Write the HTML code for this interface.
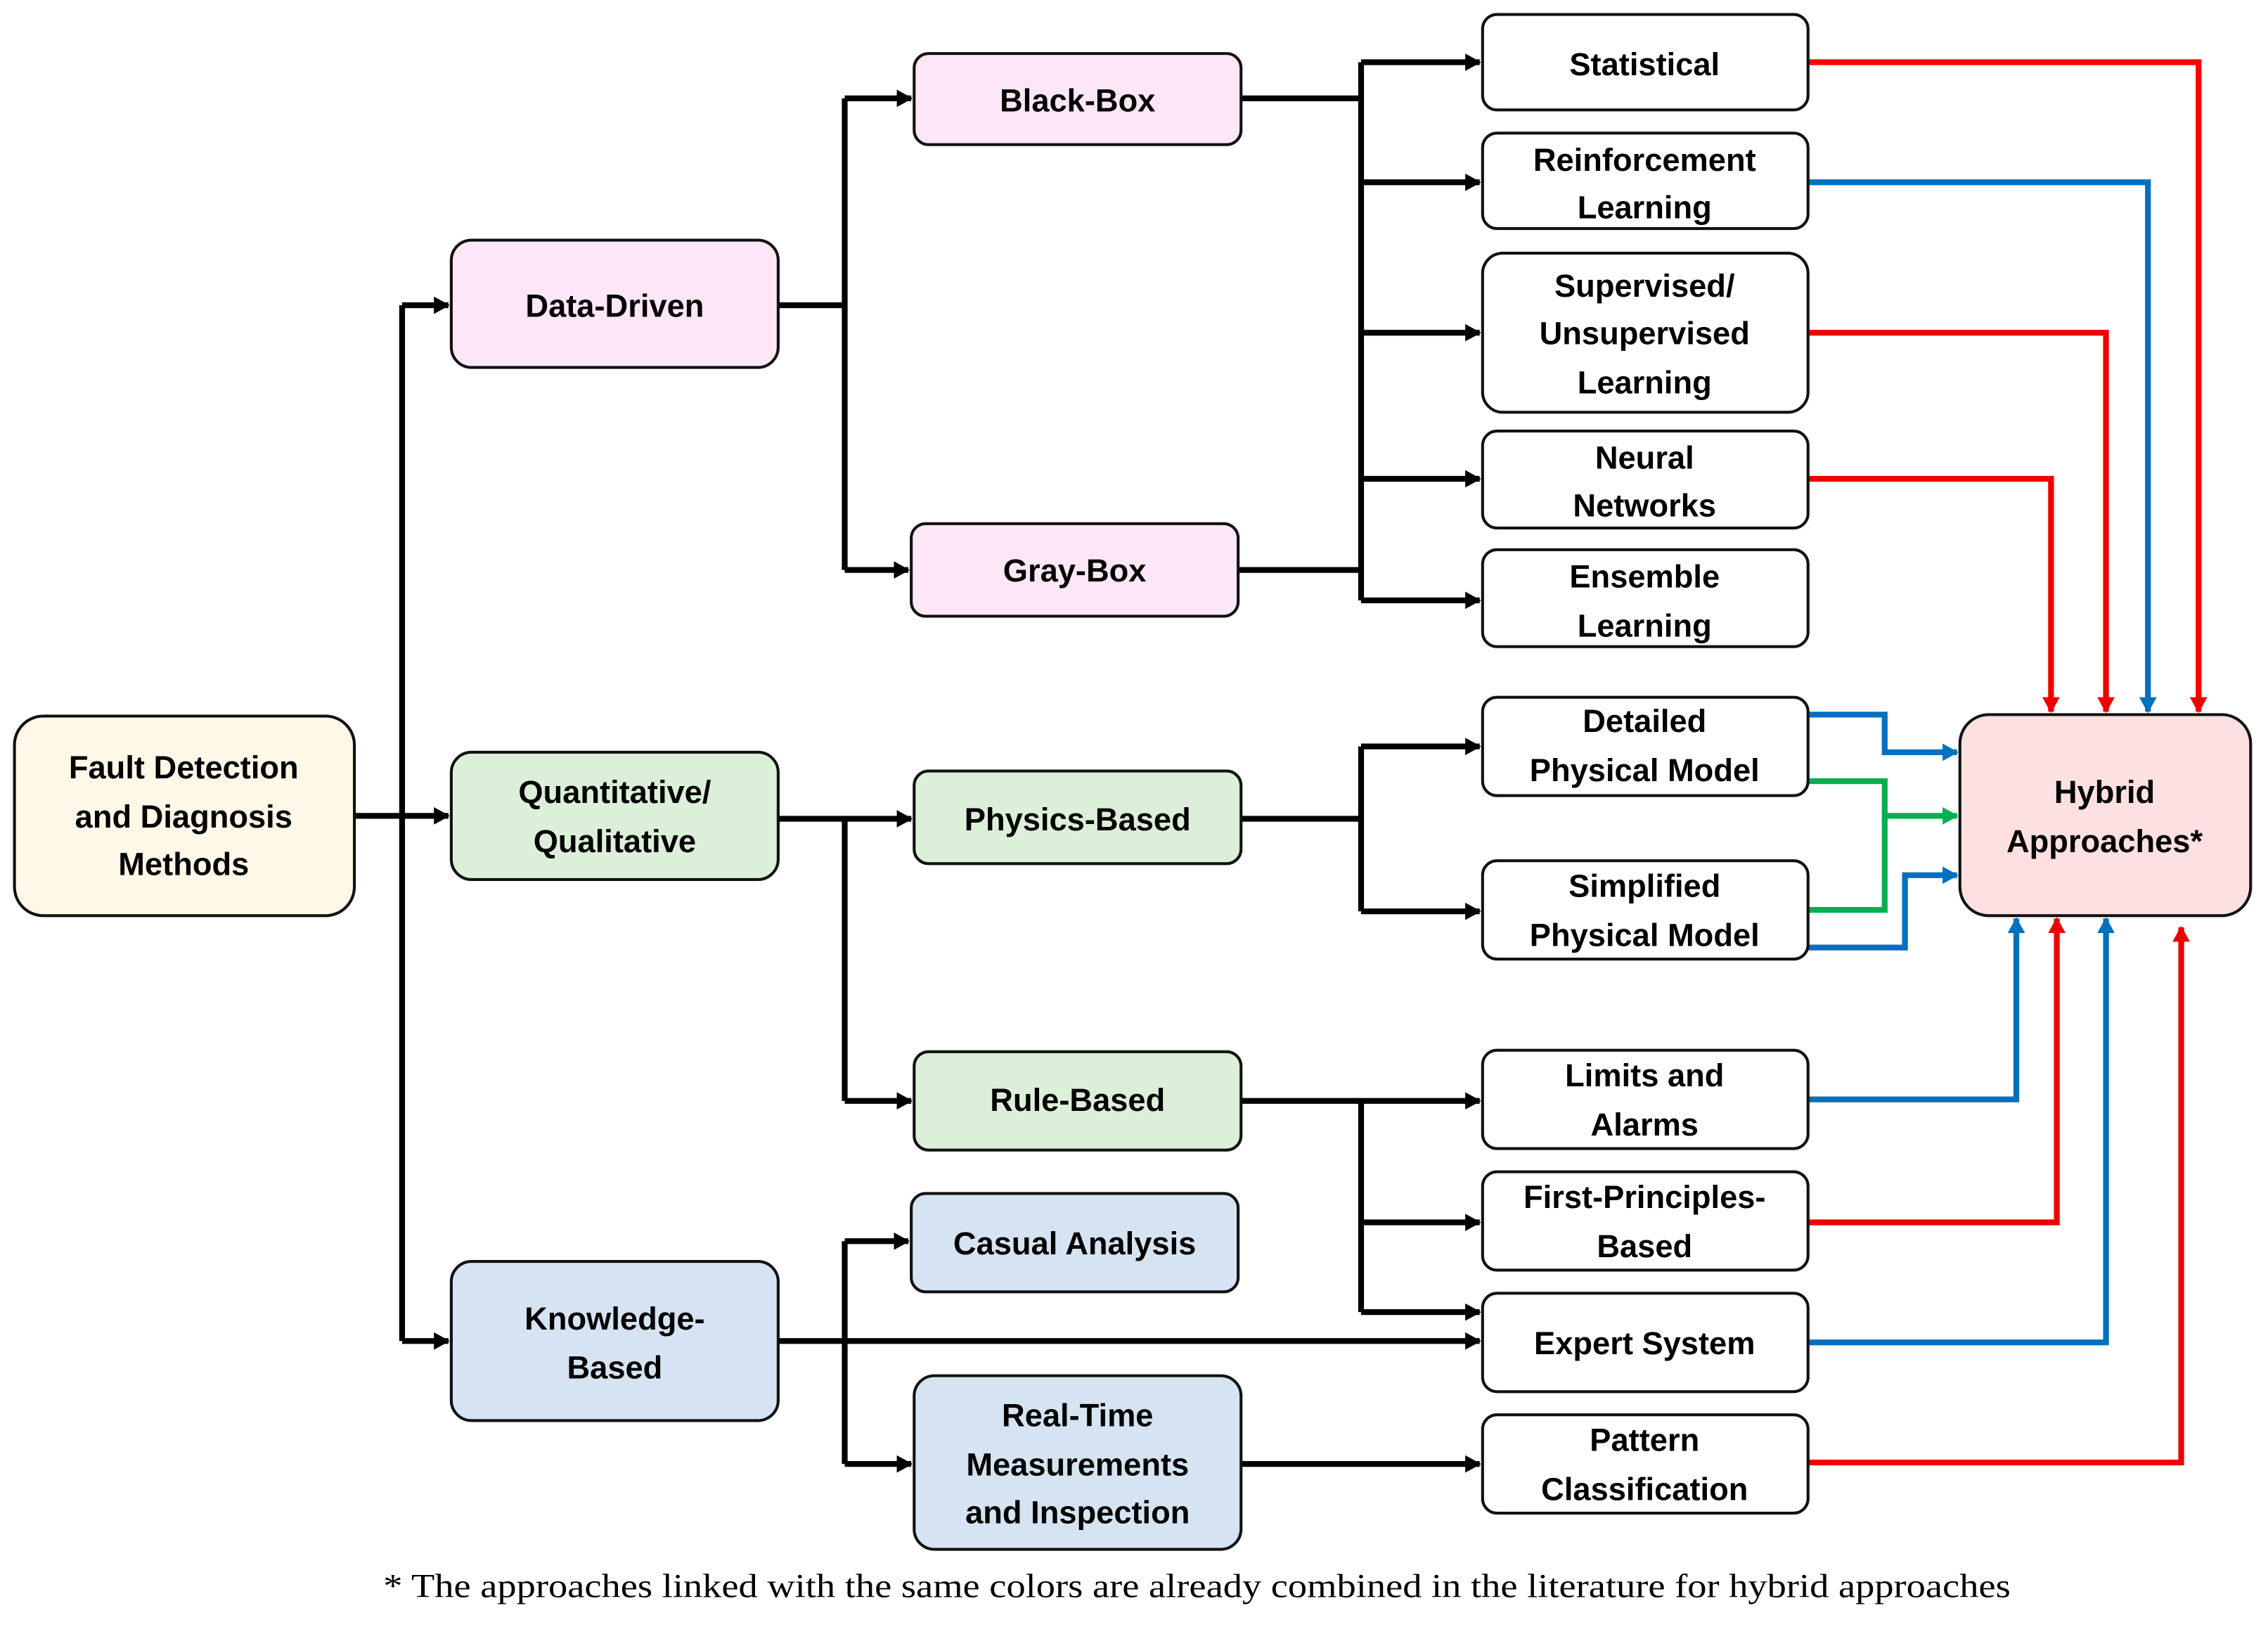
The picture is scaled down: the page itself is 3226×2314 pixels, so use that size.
<!DOCTYPE html>
<html><head><meta charset="utf-8"><style>
html,body{margin:0;padding:0;background:#fff;}
svg{display:block;}
text{font-family:"Liberation Sans",sans-serif;font-weight:bold;font-size:22px;fill:#000;text-anchor:middle;}
.cap{font-family:"Liberation Serif",serif;font-weight:normal;font-size:23px;text-anchor:start;}
</style></head><body>
<svg width="3226" height="2314" viewBox="0 0 1568 1124.7" preserveAspectRatio="none" xmlns="http://www.w3.org/2000/svg">
<defs>
<marker id="ak" markerWidth="14" markerHeight="14" refX="10" refY="6" orient="auto" markerUnits="userSpaceOnUse"><path d="M0,0 L11,6 L0,12 z" fill="#000"/></marker>
<marker id="ar" markerWidth="14" markerHeight="14" refX="10" refY="6" orient="auto" markerUnits="userSpaceOnUse"><path d="M0,0 L11,6 L0,12 z" fill="#e00"/></marker>
<marker id="ab" markerWidth="14" markerHeight="14" refX="10" refY="6" orient="auto" markerUnits="userSpaceOnUse"><path d="M0,0 L11,6 L0,12 z" fill="#0070c0"/></marker>
<marker id="ag" markerWidth="14" markerHeight="14" refX="10" refY="6" orient="auto" markerUnits="userSpaceOnUse"><path d="M0,0 L11,6 L0,12 z" fill="#00b050"/></marker>
</defs>
<g fill="none" stroke="#000" stroke-width="4">
<path d="M245,564 H278"/><path d="M278,211 V927"/>
<path d="M278,211 H310" marker-end="url(#ak)"/>
<path d="M278,564 H310" marker-end="url(#ak)"/>
<path d="M278,927 H310" marker-end="url(#ak)"/>
<path d="M538,211 H584"/><path d="M584,68 V394"/>
<path d="M584,68 H630" marker-end="url(#ak)"/>
<path d="M584,394 H628" marker-end="url(#ak)"/>
<path d="M858,68 H941"/><path d="M856,394 H941"/><path d="M941,43 V415"/>
<path d="M941,43 H1023" marker-end="url(#ak)"/>
<path d="M941,126 H1023" marker-end="url(#ak)"/>
<path d="M941,230 H1023" marker-end="url(#ak)"/>
<path d="M941,331 H1023" marker-end="url(#ak)"/>
<path d="M941,415 H1023" marker-end="url(#ak)"/>
<path d="M538,566 H630" marker-end="url(#ak)"/>
<path d="M584,566 V761"/><path d="M584,761 H630" marker-end="url(#ak)"/>
<path d="M858,566 H941"/><path d="M941,516 V630"/>
<path d="M941,516 H1023" marker-end="url(#ak)"/>
<path d="M941,630 H1023" marker-end="url(#ak)"/>
<path d="M858,761 H1023" marker-end="url(#ak)"/>
<path d="M941,761 V907"/>
<path d="M941,845 H1023" marker-end="url(#ak)"/>
<path d="M941,907 H1023" marker-end="url(#ak)"/>
<path d="M538,927 H1023" marker-end="url(#ak)"/>
<path d="M584,858 V1012"/>
<path d="M584,858 H628" marker-end="url(#ak)"/>
<path d="M584,1012 H630" marker-end="url(#ak)"/>
<path d="M858,1012 H1023" marker-end="url(#ak)"/>
</g>
<g fill="none" stroke-width="4">
<path d="M1250,43 H1520 V492" stroke="#f00" marker-end="url(#ar)"/>
<path d="M1250,126 H1485 V492" stroke="#0070c0" marker-end="url(#ab)"/>
<path d="M1250,230 H1456 V492" stroke="#e00" marker-end="url(#ar)"/>
<path d="M1250,331 H1418 V492" stroke="#e00" marker-end="url(#ar)"/>
<path d="M1250,494 H1303 V520 H1353" stroke="#0070c0" marker-end="url(#ab)"/>
<path d="M1250,540 H1303 V629 H1250" stroke="#00b050"/>
<path d="M1303,564 H1353" stroke="#00b050" marker-end="url(#ag)"/>
<path d="M1250,655 H1317 V605 H1353" stroke="#0070c0" marker-end="url(#ab)"/>
<path d="M1250,760 H1394 V635" stroke="#0070c0" marker-end="url(#ab)"/>
<path d="M1250,845 H1422 V635" stroke="#e00" marker-end="url(#ar)"/>
<path d="M1250,928 H1456 V635" stroke="#0070c0" marker-end="url(#ab)"/>
<path d="M1250,1011 H1508 V641" stroke="#e00" marker-end="url(#ar)"/>
</g>
<g stroke="#111" stroke-width="2">
<rect x="10" y="495" width="235" height="138" rx="20" fill="#fff8e8"/>
<rect x="312" y="166" width="226" height="88" rx="14" fill="#fde6f6"/>
<rect x="312" y="520" width="226" height="88" rx="14" fill="#dcefd8"/>
<rect x="312" y="872" width="226" height="110" rx="14" fill="#d6e3f2"/>
<rect x="632" y="37" width="226" height="63" rx="10" fill="#fde6f6"/>
<rect x="630" y="362" width="226" height="64" rx="10" fill="#fde6f6"/>
<rect x="632" y="533" width="226" height="64" rx="10" fill="#dcefd8"/>
<rect x="632" y="727" width="226" height="68" rx="10" fill="#dcefd8"/>
<rect x="630" y="825" width="226" height="68" rx="10" fill="#d6e3f2"/>
<rect x="632" y="951" width="226" height="120" rx="14" fill="#d6e3f2"/>
<rect x="1025" y="10" width="225" height="66" rx="10" fill="#fff"/>
<rect x="1025" y="92" width="225" height="66" rx="10" fill="#fff"/>
<rect x="1025" y="175" width="225" height="110" rx="14" fill="#fff"/>
<rect x="1025" y="298" width="225" height="67" rx="10" fill="#fff"/>
<rect x="1025" y="380" width="225" height="67" rx="10" fill="#fff"/>
<rect x="1025" y="482" width="225" height="68" rx="10" fill="#fff"/>
<rect x="1025" y="595" width="225" height="68" rx="10" fill="#fff"/>
<rect x="1025" y="726" width="225" height="68" rx="10" fill="#fff"/>
<rect x="1025" y="810" width="225" height="68" rx="10" fill="#fff"/>
<rect x="1025" y="894" width="225" height="68" rx="10" fill="#fff"/>
<rect x="1025" y="978" width="225" height="68" rx="10" fill="#fff"/>
<rect x="1355" y="494" width="201" height="139" rx="20" fill="#fde0e0"/>
</g>
<g>
<text x="127" y="538">Fault Detection</text><text x="127" y="572">and Diagnosis</text><text x="127" y="605">Methods</text>
<text x="425" y="219">Data-Driven</text>
<text x="425" y="555">Quantitative/</text><text x="425" y="589">Qualitative</text>
<text x="425" y="919">Knowledge-</text><text x="425" y="953">Based</text>
<text x="745" y="77">Black-Box</text>
<text x="743" y="402">Gray-Box</text>
<text x="745" y="574">Physics-Based</text>
<text x="745" y="768">Rule-Based</text>
<text x="743" y="867">Casual Analysis</text>
<text x="745" y="986">Real-Time</text><text x="745" y="1020">Measurements</text><text x="745" y="1053">and Inspection</text>
<text x="1137" y="52">Statistical</text>
<text x="1137" y="118">Reinforcement</text><text x="1137" y="151">Learning</text>
<text x="1137" y="205">Supervised/</text><text x="1137" y="238">Unsupervised</text><text x="1137" y="272">Learning</text>
<text x="1137" y="324">Neural</text><text x="1137" y="357">Networks</text>
<text x="1137" y="406">Ensemble</text><text x="1137" y="440">Learning</text>
<text x="1137" y="506">Detailed</text><text x="1137" y="540">Physical Model</text>
<text x="1137" y="620">Simplified</text><text x="1137" y="654">Physical Model</text>
<text x="1137" y="751">Limits and</text><text x="1137" y="785">Alarms</text>
<text x="1137" y="835">First-Principles-</text><text x="1137" y="869">Based</text>
<text x="1137" y="936">Expert System</text>
<text x="1137" y="1003">Pattern</text><text x="1137" y="1037">Classification</text>
<text x="1455" y="555">Hybrid</text><text x="1455" y="589">Approaches*</text>
<text class="cap" x="265" y="1104" textLength="1125" lengthAdjust="spacingAndGlyphs">* The approaches linked with the same colors are already combined in the literature for hybrid approaches</text>
</g>
</svg>
</body></html>
